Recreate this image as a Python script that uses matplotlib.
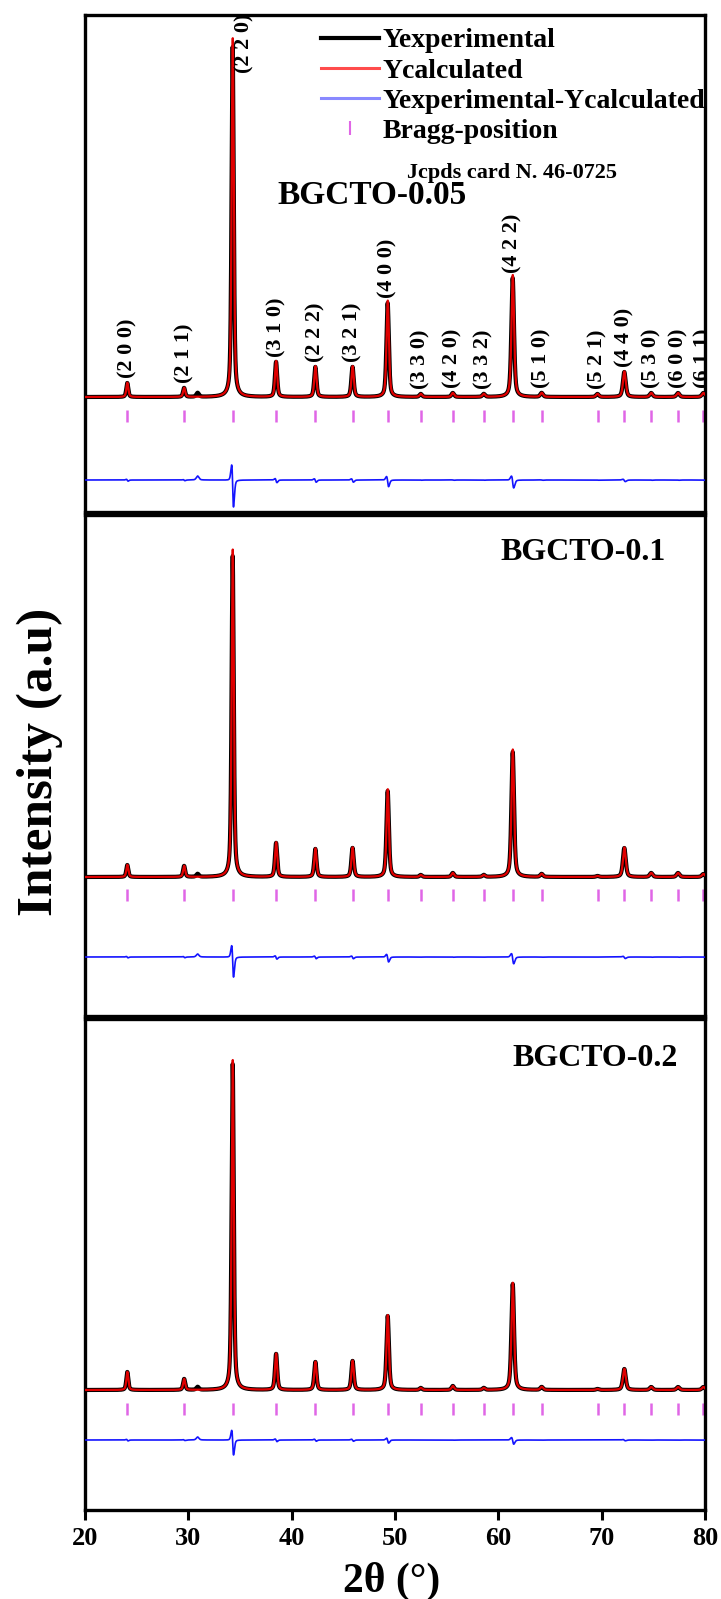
import numpy as np
import matplotlib
matplotlib.use("Agg")
import matplotlib.pyplot as plt
from matplotlib.lines import Line2D

plt.rcParams['font.family'] = ['Liberation Serif', 'DejaVu Serif']
plt.rcParams['font.weight'] = 'bold'

# Cubic reflections and their 2-theta positions (degrees)
hkl_labels = ["(2 0 0)", "(2 1 1)", "(2 2 0)", "(3 1 0)", "(2 2 2)", "(3 2 1)",
              "(4 0 0)", "(3 3 0)", "(4 2 0)", "(3 3 2)", "(4 2 2)", "(5 1 0)",
              "(5 2 1)", "(4 4 0)", "(5 3 0)", "(6 0 0)", "(6 1 1)"]
bragg_2theta = [24.1, 29.6, 34.3, 38.5, 42.3, 45.9, 49.3, 52.5, 55.6, 58.6,
                61.4, 64.2, 69.6, 72.2, 74.8, 77.4, 79.85]

# Observed peak intensities (a.u.) for each composition
intensity_005 = [14, 9, 350, 35, 30, 30, 94, 3, 4, 3, 119, 4, 3, 25, 4, 4, 4]
intensity_01 = [12, 11, 321, 34, 28, 29, 86, 2, 4, 2, 125, 3, 1, 29, 4, 4, 3]
intensity_02 = [18, 11, 326, 36, 28, 29, 74, 2, 4, 2, 106, 3, 1, 21, 3, 3, 3]

# weak secondary reflection seen only in the measured pattern
minor_2theta = 30.9
minor_intensity = [4, 3, 3]

# refinement misfit: calculated/observed height ratio and zero shift (deg)
calc_ratio = [1.025, 1.02, 1.012]
zero_shift = [0.011, 0.009, 0.007]

sample_names = ["BGCTO-0.05", "BGCTO-0.1", "BGCTO-0.2"]
intensities = [intensity_005, intensity_01, intensity_02]

two_theta = np.arange(20.0, 80.0001, 0.005)


def pseudo_voigt(x, x0, h, fwhm, eta=0.5):
    u = (x - x0) / fwhm
    return h * (eta / (1 + 4 * u ** 2) + (1 - eta) * np.exp(-4 * np.log(2) * u ** 2))


def fwhm_at(pos):
    return 0.22 + 0.002 * (pos - 20)


def patterns(heights, minor_h, ratio, shift):
    y_obs = np.zeros_like(two_theta)
    y_cal = np.zeros_like(two_theta)
    for pos, h in zip(bragg_2theta, heights):
        w = fwhm_at(pos)
        y_obs += pseudo_voigt(two_theta, pos - shift, h, w)
        y_cal += pseudo_voigt(two_theta, pos, h * ratio, w)
    y_obs += pseudo_voigt(two_theta, minor_2theta, minor_h, 0.3)
    return y_obs, y_cal


W, H = 721, 1599
fig = plt.figure(figsize=(W / 100, H / 100), dpi=100)

# panel extents in pixels (top, bottom) and vertical offsets inside each panel
panel_px = [(15, 512), (515, 1016), (1019, 1510)]
base_off = [115, 139, 120]
bragg_off = [96, 121, 101]
diff_off = [32, 59, 70]

left_px, right_px = 85, 705
axes = []
for i, (top, bot) in enumerate(panel_px):
    ax = fig.add_axes([left_px / W, (H - bot) / H, (right_px - left_px) / W, (bot - top) / H])
    ax.set_xlim(20, 80)
    ax.set_ylim(0, bot - top)
    for sp in ax.spines.values():
        sp.set_linewidth(2.4)
    ax.set_yticks([])
    y_obs, y_cal = patterns(intensities[i], minor_intensity[i], calc_ratio[i], zero_shift[i])
    ax.plot(two_theta, base_off[i] + y_obs, color='black', lw=3.0, zorder=3)
    ax.plot(two_theta, base_off[i] + y_cal, color='#e00000', lw=1.6, zorder=4)
    ax.plot(two_theta, diff_off[i] + (y_obs - y_cal), color='#1414ff', lw=1.2, zorder=3)
    ax.vlines(bragg_2theta, bragg_off[i] - 6, bragg_off[i] + 6, color='#e066e6', lw=1.8, zorder=2)
    axes.append(ax)

# Miller indices on the top panel
ax1 = axes[0]
for lab, pos, h in zip(hkl_labels, bragg_2theta, intensity_005):
    if lab == "(2 2 0)":
        ax1.text(pos + 1.1, base_off[0] + h - 26, lab, rotation=90, ha='center', va='bottom',
                 fontsize=16, clip_on=True, zorder=5)
    else:
        ax1.text(pos, base_off[0] + h + 5, lab, rotation=90, ha='center', va='bottom',
                 fontsize=16, clip_on=True, zorder=5)

handles = [
    Line2D([], [], color='black', lw=3.0),
    Line2D([], [], color='red', lw=2.2, alpha=0.7),
    Line2D([], [], color='#1414ff', lw=2.2, alpha=0.5),
    Line2D([], [], color='#e066e6', lw=0, marker='|', markersize=10, markeredgewidth=1.5),
]
labels = ["Yexperimental", "Ycalculated", "Yexperimental-Ycalculated", "Bragg-position"]
ax1.legend(handles, labels, loc='upper right', bbox_to_anchor=(1.0, 1 - 13 / 497),
           frameon=False, fontsize=20, borderaxespad=0, borderpad=0,
           handlelength=2.1, handletextpad=0.12, labelspacing=0.17)

ax1.text((407 - 85) / 620, (512 - 173) / 497, "Jcpds card N. 46-0725", transform=ax1.transAxes,
         fontsize=16, ha='left', va='center')

name_pos = [((277 - 85) / 620, (512 - 195) / 497),
            ((500 - 85) / 620, (1016 - 552) / 501),
            ((512 - 85) / 620, (1510 - 1058) / 491)]
name_size = [24, 23, 23]
for ax, name, (tx, ty), fs in zip(axes, sample_names, name_pos, name_size):
    ax.text(tx, ty, name, transform=ax.transAxes, fontsize=fs, ha='left', va='center')

for ax in axes[:2]:
    ax.set_xticks([])

ax3 = axes[2]
ax3.set_xticks(range(20, 81, 10))
ax3.tick_params(axis='x', direction='out', length=7, width=2.2, labelsize=19, pad=5)

fig.text(40 / W, 1 - 762 / H, "Intensity (a.u)", rotation=90, fontsize=37, ha='center', va='center')
fig.text(392 / W, 1 - 1581 / H, "2θ (°)", fontsize=30, ha='center', va='center')

fig.savefig("out.png", dpi=100)
